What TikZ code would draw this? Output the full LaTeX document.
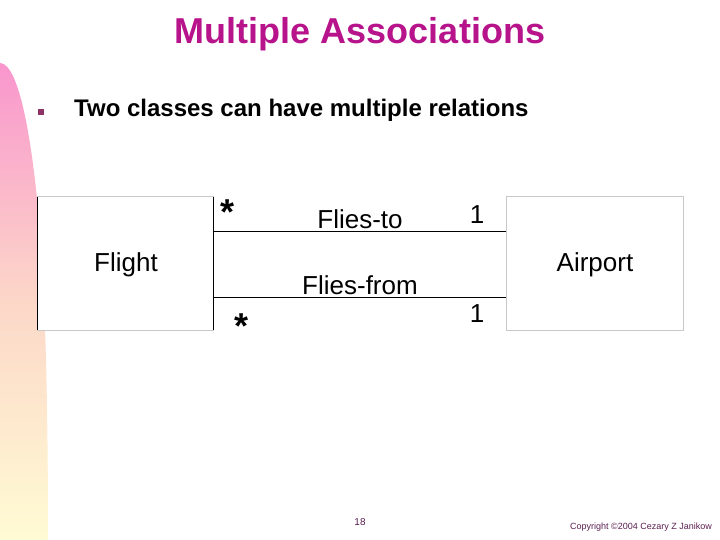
\documentclass[tikz,border=0pt]{standalone}
\usepackage{fontspec}
\setmainfont{Liberation Sans}
\definecolor{titlec}{RGB}{183,20,140}
\definecolor{bulletc}{RGB}{140,50,100}
\definecolor{pinktop}{RGB}{249,150,205}
\definecolor{peach}{RGB}{252,215,200}
\definecolor{yellowbot}{RGB}{255,251,212}
\definecolor{boxgray}{RGB}{200,200,200}
\definecolor{footc}{RGB}{90,30,80}
\begin{document}
\begin{tikzpicture}[x=1pt,y=-1pt,
  lbl/.style={font=\fontsize{26}{30}\selectfont, inner sep=0pt, anchor=center},
  classbox/.style={draw=boxgray, line width=1pt, fill=white},
  assoc/.style={draw=black, line width=0.8pt},
  star/.style={font=\bfseries\fontsize{36}{40}\selectfont, inner sep=0pt}]
\useasboundingbox (0,0) rectangle (720,540);
% decorative gradient bar
\shade[top color=pinktop, bottom color=yellowbot, middle color=peach]
  (0,540) -- (0,63) .. controls (20,63) and (35,150) .. (42,260)
  .. controls (46,330) and (48,420) .. (48,540) -- cycle;
% title
\node[font=\bfseries\fontsize{36}{40}\selectfont, text=titlec] (title) at (360,34) {Multiple Associations};
% bullet
\node[fill=bulletc, minimum size=6pt, inner sep=0pt] (bul) at (41,112) {};
\node[font=\bfseries\fontsize{24}{28}\selectfont, anchor=west, inner sep=0pt] (txt) at (74,110.5) {Two classes can have multiple relations};
% boxes
\path[classbox] (37,197) rectangle (213,330);
\draw[black, line width=0.8pt] (37,197) -- (37,330);
\draw[black, line width=0.8pt] (213,197) -- (213,330);
\node[lbl] (flight) at (126,265) {Flight};
\path[classbox] (506,197) rectangle (683,330);
\node[lbl] (airport) at (595,265) {Airport};
\coordinate (f1) at (213,231);
\coordinate (f2) at (213,297);
\coordinate (a1) at (506,231);
\coordinate (a2) at (506,297);
\draw[assoc] (f1) -- (a1);
\draw[assoc] (f2) -- (a2);
\node[lbl] (l1) at (360,219) {Flies-to};
\node[lbl] (l2) at (360,285) {Flies-from};
\node[star] (s1) at (228,212) {*};
\node[star] (s2) at (242,326) {*};
\node[lbl] (m1) at (477,215) {1};
\node[lbl] (m2) at (477,314) {1};
% footer
\node[font=\fontsize{10}{12}\selectfont, text=footc] (pg) at (360,522) {18};
\node[font=\fontsize{9}{11}\selectfont, text=footc] (cp) at (641,527) {Copyright ©2004 Cezary Z Janikow};
\end{tikzpicture}
\end{document}
